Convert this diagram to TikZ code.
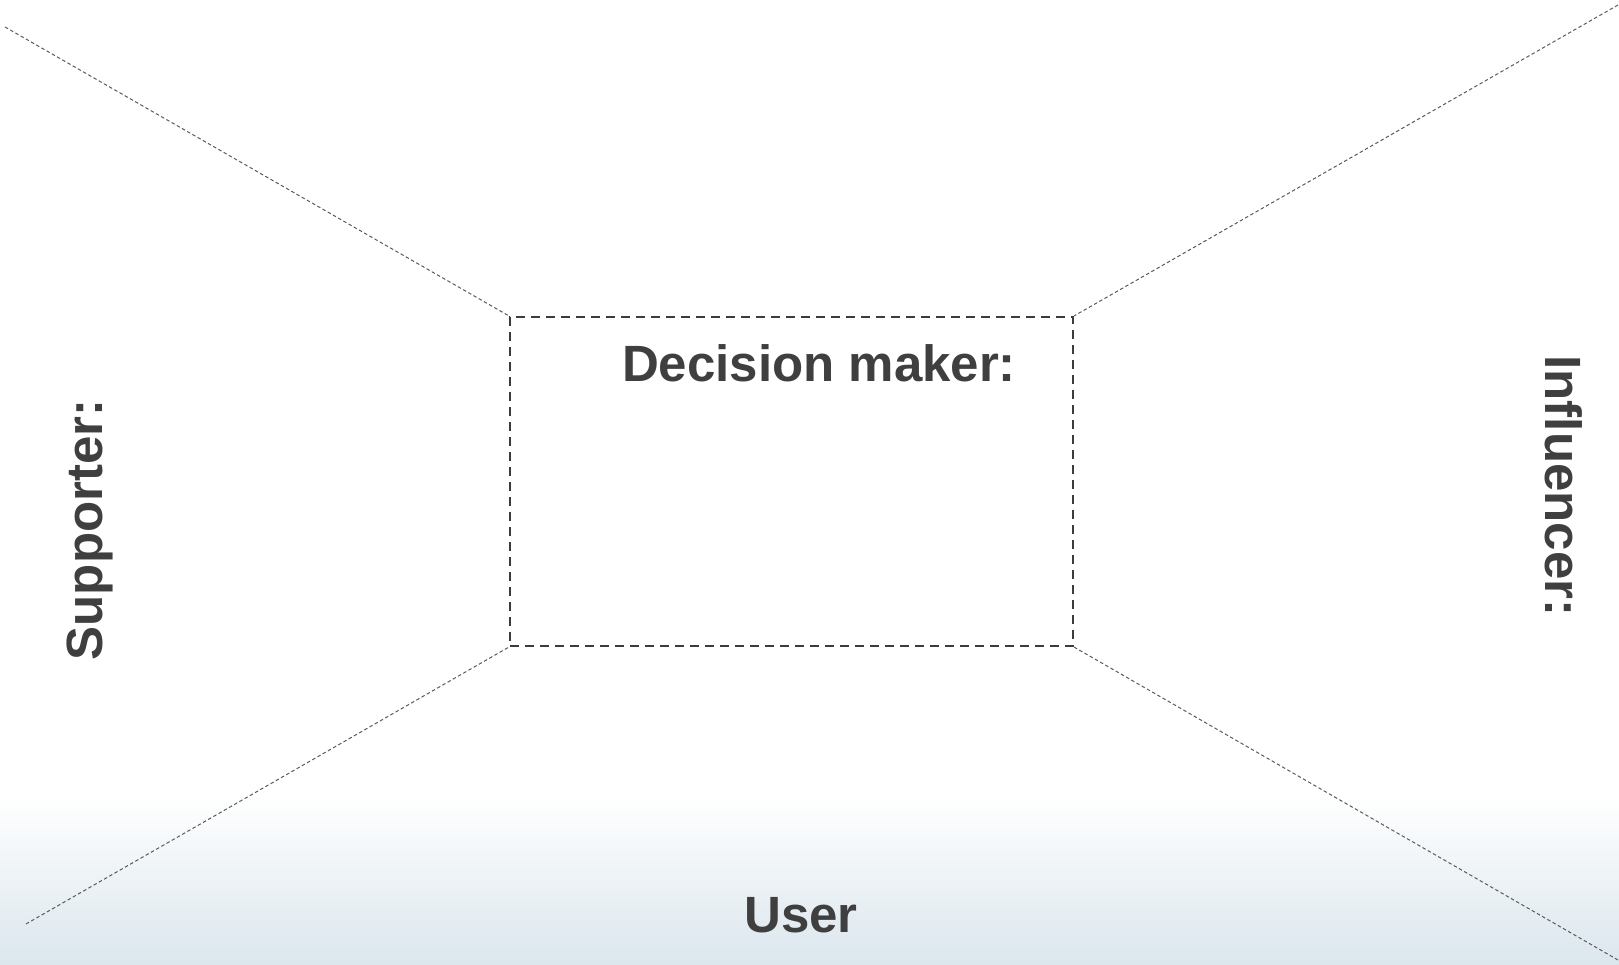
\documentclass[tikz,border=0pt]{standalone}
\usepackage{fontspec}
\setmainfont{Liberation Sans}
\definecolor{txt}{RGB}{63,63,63}
\definecolor{boxc}{RGB}{60,60,60}
\definecolor{diag}{RGB}{90,90,90}
\definecolor{bgblue}{RGB}{219,230,237}
\begin{document}
\begin{tikzpicture}[x=1pt,y=1pt,
  lbl/.style={text=txt,font=\fontsize{51}{60}\selectfont\bfseries,inner sep=0pt,anchor=base},
  roombox/.style={draw=boxc,line width=2.2pt,dash pattern=on 9pt off 6pt,minimum width=563pt,minimum height=329pt,inner sep=0pt},
  diagline/.style={draw=diag,line width=1pt,dash pattern=on 3.5pt off 2.5pt}]
\useasboundingbox (0,0) rectangle (1619,965);
\shade[top color=white,bottom color=bgblue] (0,0) rectangle (1619,170);
\node[roombox] (dm) at (791.5,483.5) {};
\coordinate (tl) at (5,938);
\coordinate (tr) at (1618,960);
\coordinate (bl) at (26,41);
\coordinate (br) at (1618,5);
\draw[diagline] (tl) -- (dm.north west);
\draw[diagline] (tr) -- (dm.north east);
\draw[diagline] (bl) -- (dm.south west);
\draw[diagline] (br) -- (dm.south east);
\node[lbl] (dmlabel) at (819,583) {Decision maker:};
\node[lbl,rotate=90] (sup) at (102,435) {Supporter:};
\node[lbl,rotate=-90] (inf) at (1545,479) {Influencer:};
\node[lbl] (user) at (801,32) {User};
\end{tikzpicture}
\end{document}
